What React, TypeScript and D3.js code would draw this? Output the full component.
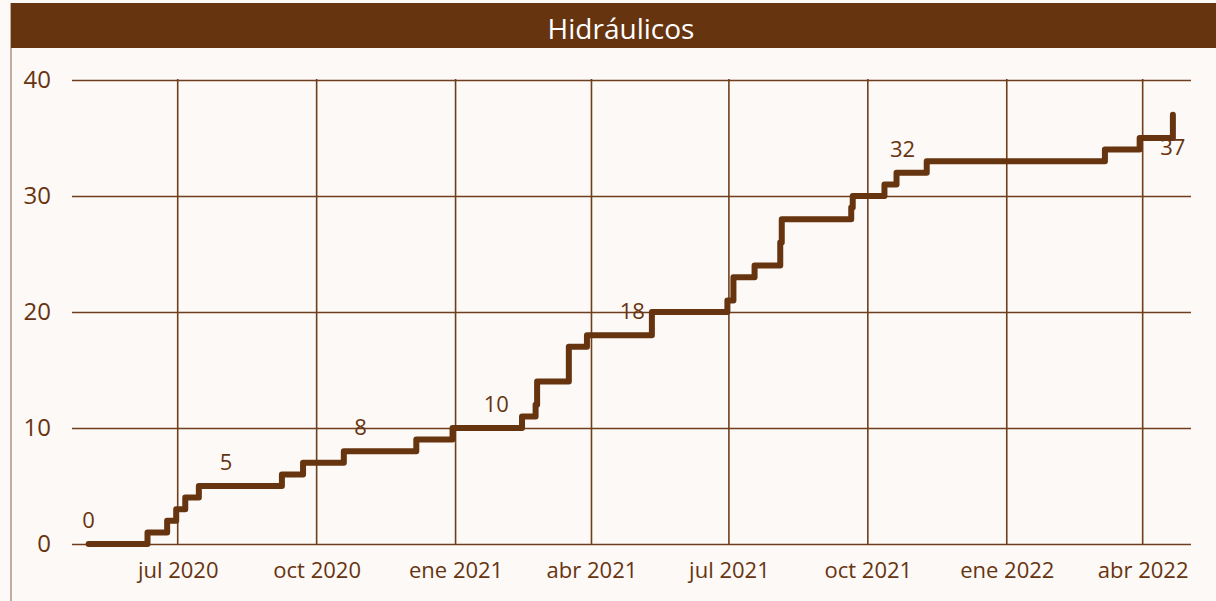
import React, { useEffect, useRef } from 'react';
import * as d3 from 'd3';

// cumulative count, one point per change (step after)
const stepDates = [
  '2020-05-03', '2020-06-11', '2020-06-24', '2020-06-30', '2020-07-06', '2020-07-15',
  '2020-09-08', '2020-09-22', '2020-10-19', '2020-12-06', '2020-12-30',
  '2021-02-14', '2021-02-23', '2021-02-24', '2021-03-17', '2021-03-29', '2021-05-11',
  '2021-06-30', '2021-07-04', '2021-07-18', '2021-08-04', '2021-08-05',
  '2021-09-20', '2021-09-21', '2021-10-12', '2021-10-20', '2021-11-09',
  '2022-03-07', '2022-03-30', '2022-04-21'
];
const stepValues = [
  0, 1, 2, 3, 4, 5,
  6, 7, 8, 9, 10,
  11, 12, 14, 17, 18, 20,
  21, 23, 24, 26, 28,
  29, 30, 31, 32, 33,
  34, 35, 37
];

const labelDates = ['2020-05-03', '2020-08-02', '2020-10-30', '2021-01-28', '2021-04-28', '2021-10-24', '2022-04-21'];
const labelTexts = ['0', '5', '8', '10', '18', '32', '37'];
const labelValues = [0, 5, 8, 10, 18, 32, 37];

const tickDates = ['2020-07-01', '2020-10-01', '2021-01-01', '2021-04-01', '2021-07-01', '2021-10-01', '2022-01-01', '2022-04-01'];
const tickLabels = ['jul 2020', 'oct 2020', 'ene 2021', 'abr 2021', 'jul 2021', 'oct 2021', 'ene 2022', 'abr 2022'];
const yTicks = [0, 10, 20, 30, 40];

const title = 'Hidráulicos';

const parse = d3.timeParse('%Y-%m-%d');

const App = () => {
  const svgRef = useRef(null);

  useEffect(() => {
    const W = 1216, H = 601;
    const svg = d3.select(svgRef.current);
    svg.selectAll('*').remove();
    svg.attr('width', W).attr('height', H);

    const brown = '#673411';
    const grid = '#6f3e1c';
    const font = "'Open Sans', sans-serif";

    svg.append('rect').attr('width', W).attr('height', H).attr('fill', '#fcf9f6');

    // frame
    svg.append('line').attr('x1', 11).attr('x2', 11).attr('y1', 3).attr('y2', H)
      .attr('stroke', '#9a7a66').attr('stroke-width', 1.2);
    svg.append('rect').attr('x', 11).attr('y', 3).attr('width', W - 11).attr('height', 45)
      .attr('fill', '#673410');
    svg.append('text')
      .attr('x', 621).attr('y', 28)
      .attr('text-anchor', 'middle').attr('dominant-baseline', 'central')
      .attr('font-family', font).attr('font-size', 28).attr('fill', '#fff')
      .text(title);

    const x = d3.scaleTime()
      .domain([parse('2020-04-22'), parse('2022-05-03')])
      .range([72, 1191]);
    const y = d3.scaleLinear().domain([0, 40]).range([544, 80]);

    const g = svg.append('g');

    // horizontal grid + y labels
    const yAxis = d3.axisLeft(y).tickValues(yTicks).tickSize(-(1191 - 72)).tickPadding(21);
    const ya = g.append('g').attr('transform', 'translate(72,0)').call(yAxis);
    ya.select('.domain').remove();
    ya.selectAll('line').attr('stroke', grid).attr('stroke-width', 1.6);
    ya.selectAll('text').attr('fill', brown).attr('font-family', font).attr('font-size', 24);

    // vertical grid + x labels
    const xAxis = d3.axisBottom(x).tickValues(tickDates.map(parse))
      .tickFormat((d, i) => tickLabels[i]).tickSize(0).tickPadding(18);
    const xa = g.append('g').attr('transform', 'translate(0,544)').call(xAxis);
    xa.select('.domain').remove();
    xa.selectAll('text').attr('fill', brown).attr('font-family', font).attr('font-size', 22);
    g.append('g').selectAll('line').data(tickDates.map(parse)).enter().append('line')
      .attr('x1', d => x(d)).attr('x2', d => x(d))
      .attr('y1', y(40) - 1).attr('y2', y(0))
      .attr('stroke', grid).attr('stroke-width', 1.6);

    // step line
    const data = stepDates.map((d, i) => ({ date: parse(d), value: stepValues[i] }));
    const line = d3.line()
      .x(d => x(d.date))
      .y(d => y(d.value))
      .curve(d3.curveStepAfter);
    g.append('path').datum(data)
      .attr('d', line)
      .attr('fill', 'none')
      .attr('stroke', '#673410')
      .attr('stroke-width', 6)
      .attr('stroke-linecap', 'round')
      .attr('stroke-linejoin', 'round');

    // data labels
    const last = labelDates.length - 1;
    g.append('g').selectAll('text').data(labelDates).enter().append('text')
      .attr('x', d => x(parse(d)))
      .attr('y', (d, i) => y(labelValues[i]) + (i === last ? 31 : -25))
      .attr('text-anchor', 'middle').attr('dominant-baseline', 'central')
      .attr('font-family', font).attr('font-size', 22).attr('fill', brown)
      .text((d, i) => labelTexts[i]);
  }, []);

  return (
    <svg ref={svgRef} style={{ position: 'absolute', left: 0, top: 0, display: 'block' }}></svg>
  );
};

export default App;
